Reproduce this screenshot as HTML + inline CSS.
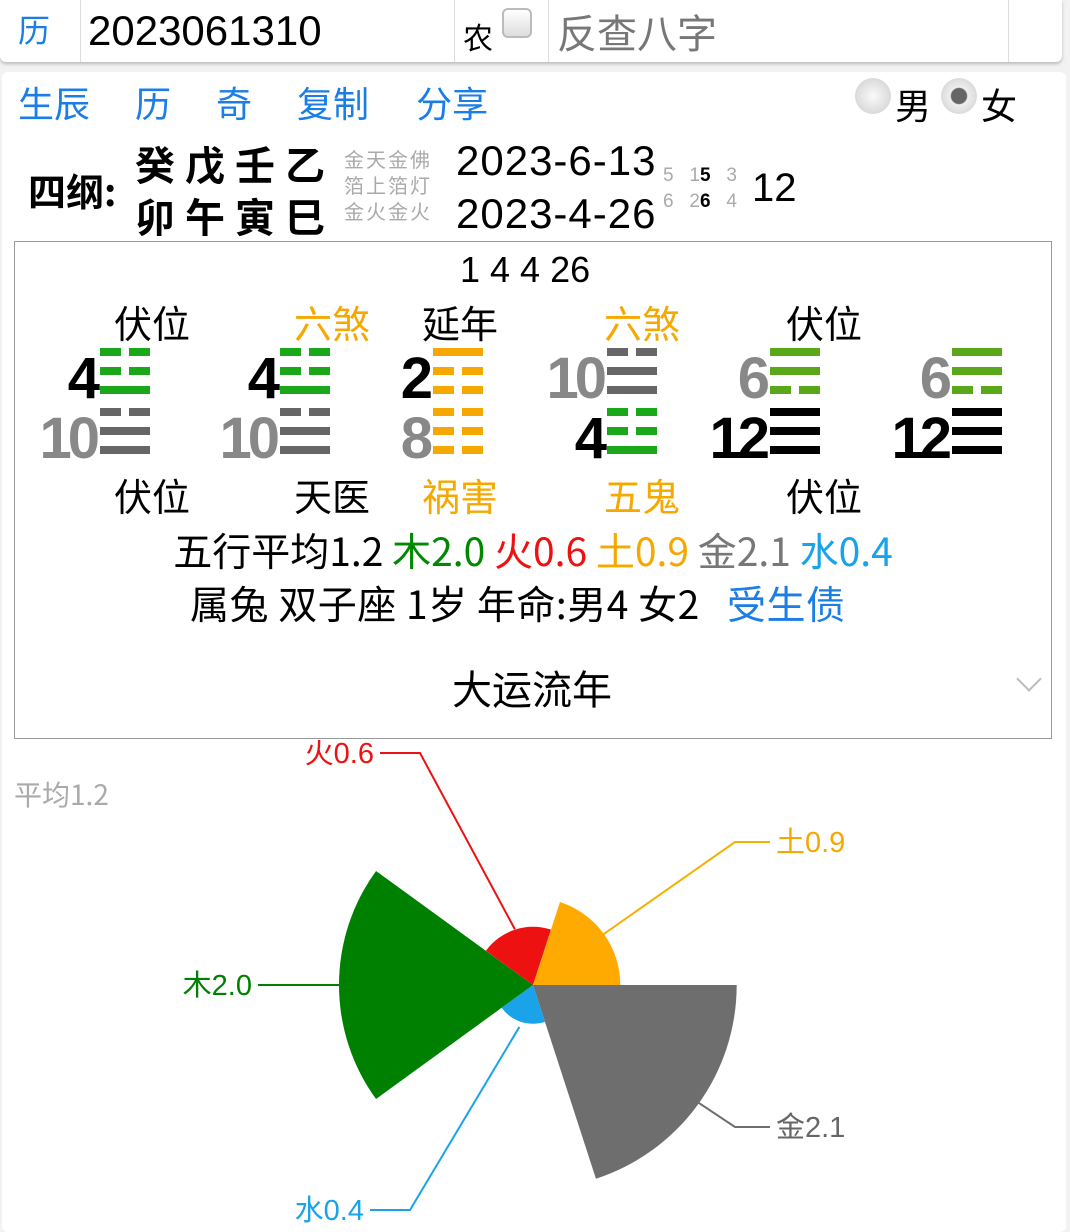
<!DOCTYPE html>
<html><head><meta charset="utf-8">
<style>
body{margin:0;width:1070px;height:1228px;background:#f2f2f2;font-family:"Liberation Sans","Noto Sans CJK SC",sans-serif;position:relative;overflow:hidden}
.a{position:absolute;white-space:nowrap}
.cjk{font-family:"Noto Sans CJK SC",sans-serif}
.blue{color:#1a7ee6}
.num{font-family:"Liberation Sans",sans-serif;font-weight:bold;font-size:58px;letter-spacing:-4px;line-height:1}
.tri{position:absolute;width:50px;height:46px}
.tri i{position:absolute;left:0;height:8px;width:50px}
</style></head><body>
<div class="a" style="left:0;top:0;width:1062px;height:62px;background:#fff;box-shadow:0 2px 3px #bbb;border-radius:0 0 6px 6px"></div>
<div class="a cjk blue" style="left:18px;top:6px;font-size:32px">历</div>
<div class="a" style="left:80px;top:0;width:373px;height:62px;border-left:1px solid #ddd;border-right:1px solid #ddd"><span style="position:absolute;left:7px;top:7px;font-size:42px">2023061310</span></div>
<div class="a cjk" style="left:463px;top:14px;font-size:30px">农</div>
<div class="a" style="left:502px;top:8px;width:30px;height:30px;border:2px solid #bbb;border-radius:6px;background:linear-gradient(#fff,#ddd);box-sizing:border-box"></div>
<div class="a" style="left:548px;top:0;width:459px;height:62px;border-left:1px solid #ddd;border-right:1px solid #ddd"><span class="cjk" style="position:absolute;left:8px;top:2px;font-size:40px;color:#777">反查八字</span></div>

<div class="a" style="left:2px;top:72px;width:1064px;height:1160px;background:#fff;border-radius:6px"></div>
<div class="a cjk blue" style="left:18px;top:76px;font-size:36px"><span>生辰</span><span style="margin-left:45px">历</span><span style="margin-left:45px">奇</span><span style="margin-left:45px">复制</span><span style="margin-left:47px">分享</span></div>
<div class="a" style="left:855px;top:78px;width:36px;height:36px;border-radius:50%;background:radial-gradient(#fafafa,#ccc)"></div>
<div class="a cjk" style="left:895px;top:78px;font-size:36px">男</div>
<div class="a" style="left:941px;top:78px;width:36px;height:36px;border-radius:50%;background:radial-gradient(#666 0 30%,#eee 34%,#ccc)"></div>
<div class="a cjk" style="left:981px;top:78px;font-size:36px">女</div>

<div class="a cjk" style="left:28px;top:162px;font-size:38px;font-weight:bold">四纲:</div>
<div class="a cjk" style="left:135px;top:134px;font-size:40px;font-weight:bold;letter-spacing:10px">癸戊壬乙</div>
<div class="a cjk" style="left:135px;top:186px;font-size:40px;font-weight:bold;letter-spacing:10px">卯午寅巳</div>
<div class="a cjk" style="left:344px;top:146px;font-size:20px;color:#aaa;line-height:26px;letter-spacing:2px">金天金佛<br>箔上箔灯<br>金火金火</div>
<div class="a" style="left:456px;top:137px;font-size:42px;letter-spacing:1px">2023-6-13</div>
<div class="a" style="left:456px;top:190px;font-size:42px;letter-spacing:1px">2023-4-26</div>
<div class="a" style="left:663px;top:163px;font-size:19px;color:#aaa;line-height:26px">5&nbsp;&nbsp;&nbsp;1<b style="color:#000">5</b>&nbsp;&nbsp;&nbsp;3<br>6&nbsp;&nbsp;&nbsp;2<b style="color:#000">6</b>&nbsp;&nbsp;&nbsp;4</div>
<div class="a" style="left:752px;top:166px;font-size:40px">12</div>

<div class="a" style="left:14px;top:241px;width:1036px;height:496px;border:1px solid #999"></div>
<div class="a" style="left:460px;top:249px;font-size:36px">1 4 4 26</div>
<div id="gua"></div>
<div class="a cjk" style="left:0;width:1066px;text-align:center;top:522px;font-size:39px;letter-spacing:0px">五行平均1.2 <span style="color:#080">木2.0</span> <span style="color:#e11">火0.6</span> <span style="color:#f5a800">土0.9</span> <span style="color:#777">金2.1</span> <span style="color:#1aa3e8">水0.4</span></div>
<div class="a cjk" style="left:190px;top:575px;font-size:39px;letter-spacing:0.5px">属兔 双子座 1岁 年命:男4 女2 <span class="blue" style="margin-left:18px">受生债</span></div>
<div class="a cjk" style="left:452px;top:658px;font-size:40px">大运流年</div>
<div class="a" style="left:1020px;top:670px;width:16px;height:16px;border-right:2px solid #bbb;border-bottom:2px solid #bbb;transform:rotate(45deg)"></div>
<div class="a cjk" style="left:14px;top:774px;font-size:28px;color:#aaa">平均1.2</div>

<svg id="chart" class="a" style="left:0;top:740px" width="1070" height="488"></svg>

<script>
const topNums=["4","4","2","10","6","6"];
const topColors=["#000","#000","#000","#888","#888","#888"];
const topTri=[[0,0,1],[0,0,1],[1,0,0],[0,1,1],[1,1,0],[1,1,0]];
const topTriColor=["#1aa81a","#1aa81a","#f5a800","#666","#5aa81a","#5aa81a"];
const botNums=["10","10","8","4","12","12"];
const botColors=["#888","#888","#888","#000","#000","#000"];
const botTri=[[0,1,1],[0,1,1],[0,0,0],[0,0,1],[1,1,1],[1,1,1]];
const botTriColor=["#666","#666","#f5a800","#1aa81a","#000","#000"];
const topLabels=["伏位","六煞","延年","六煞","伏位",""];
const topLabelColors=["#000","#f5a800","#000","#f5a800","#000","#000"];
const botLabels=["伏位","天医","祸害","五鬼","伏位",""];
const botLabelColors=["#000","#000","#f5a800","#f5a800","#000","#000"];
const colTri=[100,280,433,607,770,952];
const labelX=[114,294,422,604,786];
const g=document.getElementById('gua');
function tri(x,y,pat,col,name){
  const d=document.createElement('div');d.className='tri';d.style.left=x+'px';d.style.top=y+'px';
  
  
  pat.forEach((p,i)=>{const l=document.createElement('i');l.style.top=(i*19)+'px';
    if(p){l.style.background=col;}
    else{l.innerHTML='<span style="position:absolute;left:0;width:21px;height:8px;background:'+col+'"></span><span style="position:absolute;right:0;width:21px;height:8px;background:'+col+'"></span>';}
    d.appendChild(l);});
  g.appendChild(d);
}
function num(x,y,t,c,name){
  const s=document.createElement('div');s.className='a num';s.textContent=t;s.style.color=c;
  s.style.right=(1070-x+4)+'px';s.style.top=y+'px';
  
  
  g.appendChild(s);
}
function lab(x,y,t,c,name){
  if(!t)return;
  const s=document.createElement('div');s.className='a cjk';s.textContent=t;s.style.color=c;s.style.fontSize='38px';
  s.style.left=x+'px';s.style.top=y+'px';
  
  
  g.appendChild(s);
}
for(let i=0;i<6;i++){
  tri(colTri[i],348,topTri[i],topTriColor[i],'upper-trigram');
  num(colTri[i],350,topNums[i],topColors[i],'upper-number');
  tri(colTri[i],408,botTri[i],botTriColor[i],'lower-trigram');
  num(colTri[i],410,botNums[i],botColors[i],'lower-number');
  if(i<5){lab(labelX[i],294,topLabels[i],topLabelColors[i],'upper-relation');
  lab(labelX[i],467,botLabels[i],botLabelColors[i],'lower-relation');}
}

// Rose chart data
const categories=["金","水","木","火","土"];
const values=[2.1,0.4,2.0,0.6,0.9];
const colors=["#6e6e6e","#1aa3e8","#008000","#ee1111","#ffaa00"];
const textColors=["#666","#1aa3e8","#008000","#ee1111","#f5a800"];
const svg=document.getElementById('chart');
const NS='http://www.w3.org/2000/svg';
const cx=533,cy=245,scale=97;
function rad(v){return v*scale;}
function ang(i){return i*72*Math.PI/180;}
function pt(a,r){return [cx+r*Math.cos(a),cy+r*Math.sin(a)];}
values.forEach((v,i)=>{
  const r=rad(v),a0=ang(i),a1=ang(i+1);
  const p0=pt(a0,r),p1=pt(a1,r);
  const p=document.createElementNS(NS,'path');
  p.setAttribute('d',`M${cx},${cy}L${p0[0]},${p0[1]}A${r},${r} 0 0 1 ${p1[0]},${p1[1]}Z`);
  p.setAttribute('fill',colors[i]);
  
  
  svg.appendChild(p);
});
const labelEnds=[[770,387],[370,470],[258,245],[380,13],[770,102]];
values.forEach((v,i)=>{
  const am=ang(i+0.5);
  const s=pt(am,rad(v)*0.75+(v<0.7?15:0));
  const e=labelEnds[i];
  const left=e[0]<cx;
  const ex=left?e[0]+40:e[0]-35;
  const mid=[ex,e[1]];
  const pl=document.createElementNS(NS,'polyline');
  pl.setAttribute('points',`${s[0]},${s[1]} ${mid[0]},${mid[1]} ${e[0]},${e[1]}`);
  pl.setAttribute('fill','none');pl.setAttribute('stroke',colors[i]==='#ffaa00'?'#f5b000':colors[i]);pl.setAttribute('stroke-width','2');
  
  
  svg.appendChild(pl);
  const t=document.createElementNS(NS,'text');
  t.textContent=categories[i]+v.toFixed(1);
  t.setAttribute('x',left?e[0]-6:e[0]+6);t.setAttribute('y',e[1]+10);
  t.setAttribute('text-anchor',left?'end':'start');
  t.setAttribute('font-size','29');t.setAttribute('fill',textColors[i]);
  t.setAttribute('font-family','"Liberation Sans","Noto Sans CJK SC",sans-serif');
  
  
  svg.appendChild(t);
});
</script>
</body></html>
